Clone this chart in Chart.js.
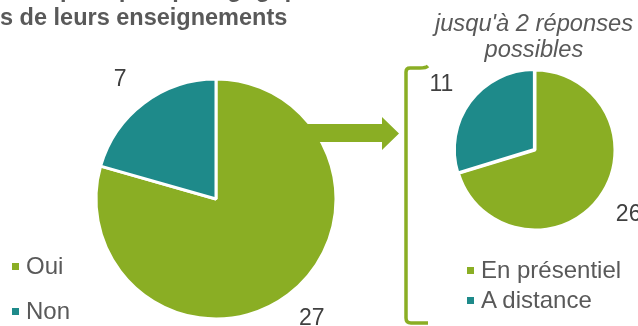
<!DOCTYPE html>
<html lang="fr">
<head>
<meta charset="utf-8">
<script src="https://cdn.jsdelivr.net/npm/chart.js@4/dist/chart.umd.min.js"></script>
<style>
  html, body { margin: 0; padding: 0; background: #fff; }
  #wrap { position: relative; width: 638px; height: 326px; overflow: hidden;
          font-family: "Liberation Sans", Arial, sans-serif; color: #595959; }
  canvas { position: absolute; left: 0; top: 0; }
  .txt { position: absolute; white-space: nowrap; line-height: 1; }
  .title { font-weight: bold; font-size: 23.5px; left: 0; }
  .sub { font-style: italic; font-size: 23.7px; width: 240px; text-align: center; left: 414px; }
  .leg { font-size: 24px; }
  .leg i { position: absolute; width: 7px; height: 7px; }
  svg { position: absolute; left: 0; top: 0; }
</style>
</head>
<body>
<div id="wrap">
  <canvas id="pieMain" width="638" height="326"></canvas>
  <canvas id="pieMode" width="638" height="326"></canvas>
  <svg width="638" height="326">
    <path d="M305 124 H382 V117 L399 133.5 L382 150 V142 H305 Z" fill="#8aae24"/>
    <path d="M428 66 Q426 68 420 68 H410 Q406 68 406 72 V318 Q406 323 411 323 H428"
          fill="none" stroke="#8aae24" stroke-width="3.5"/>
  </svg>
  <div class="txt title" style="top:-22px;left:60px">pratiques pédagogiques</div>
  <div class="txt title" style="top:6px">s de leurs enseignements</div>
  <div class="txt sub" style="top:12px">jusqu'à 2 réponses</div>
  <div class="txt sub" style="top:38px">possibles</div>
  <div id="legMain"></div>
  <div id="legMode"></div>
</div>
<script>
const GREEN = '#8aae24';
const TEAL = '#1e8a8a';

// Q1: everyone asked
const mainLabels = ['Oui', 'Non'];
const mainValues = [27, 7];

// Q2: only the "Oui" answers, two choices allowed
const modeLabels = ['En présentiel', 'A distance'];
const modeValues = [26, 11];

// value written just outside each slice, near its middle angle
const valueLabels = {
  id: 'valueLabels',
  afterDatasetsDraw(chart, args, opts) {
    const ctx = chart.ctx;
    const ds = chart.data.datasets[0];
    ctx.save();
    ctx.font = opts.font;
    ctx.fillStyle = '#404040';
    ctx.textAlign = 'center';
    ctx.textBaseline = 'middle';
    chart.getDatasetMeta(0).data.forEach((arc, i) => {
      const p = arc.getProps(['x', 'y', 'startAngle', 'endAngle', 'outerRadius'], true);
      const mid = (p.startAngle + p.endAngle) / 2 - opts.shift;
      const r = p.outerRadius + opts.gap;
      ctx.fillText(String(ds.data[i]), p.x + Math.cos(mid) * r, p.y + Math.sin(mid) * r);
    });
    ctx.restore();
  }
};

function makePie(id, labels, values, radius, padding, gap, offset){
  return new Chart(document.getElementById(id), {
    type: 'pie',
    data: {
      labels: labels,
      datasets: [{
        data: values,
        backgroundColor: [GREEN, TEAL],
        borderColor: '#fff',
        borderWidth: 3,
        offset: offset,
        radius: radius
      }]
    },
    options: {
      responsive: false,
      animation: false,
      layout: { padding: padding },
      plugins: {
        legend: { display: false },
        tooltip: { enabled: false },
        valueLabels: { font: '23px "Liberation Sans", Arial, sans-serif', gap: gap, shift: 0.03 }
      },
      events: []
    },
    plugins: [valueLabels]
  });
}

makePie('pieMain', mainLabels, mainValues, 120, { left: 0, right: 206, top: 72, bottom: 0 }, 33, [0, 0]);
makePie('pieMode', modeLabels, modeValues, 80, { left: 432, right: 0, top: 0, bottom: 26 }, 34, [0, 3]);

function legend(id, labels, x, tops){
  const box = document.getElementById(id);
  labels.forEach((lab, i) => {
    const d = document.createElement('div');
    d.className = 'txt leg';
    d.style.left = (x + 14) + 'px';
    d.style.top = tops[i] + 'px';
    d.textContent = lab;
    const sq = document.createElement('i');
    sq.style.background = [GREEN, TEAL][i];
    sq.style.left = '-14px';
    sq.style.top = '9px';
    d.prepend(sq);
    box.append(d);
  });
}
legend('legMain', mainLabels, 12, [254, 299]);
legend('legMode', modeLabels, 467, [258, 288]);
</script>
</body>
</html>
